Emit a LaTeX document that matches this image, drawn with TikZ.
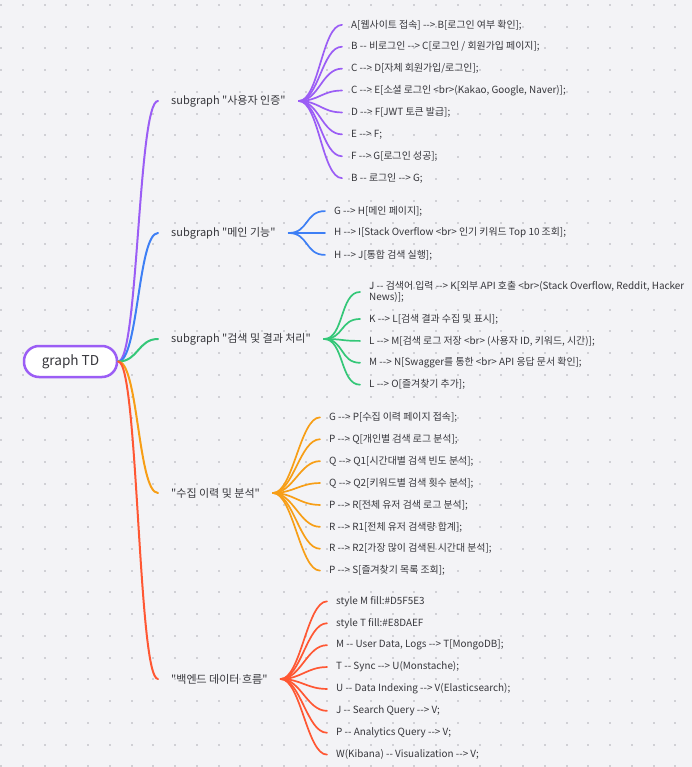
\documentclass[tikz,border=0pt]{standalone}
\usepackage{fontspec}
\newfontfamily\krfont{Noto Sans CJK KR}
\usetikzlibrary{positioning}
\definecolor{bgpaper}{RGB}{243,243,246}
\definecolor{bgdot}{RGB}{208,208,213}
\definecolor{mmtext}{RGB}{55,55,60}
\definecolor{mmpurple}{RGB}{155,93,245}
\definecolor{mmblue}{RGB}{61,127,245}
\definecolor{mmgreen}{RGB}{52,199,120}
\definecolor{mmorange}{RGB}{247,158,22}
\definecolor{mmred}{RGB}{255,87,51}
\tikzset{
  rootbox/.style={draw=mmpurple, line width=2.5pt, fill=white, rounded corners=15pt,
    minimum width=93pt, minimum height=31pt, text=mmtext, font=\krfont\fontsize{13.6}{16}\selectfont},
  topic/.style={anchor=west, inner xsep=13pt, text=mmtext, font=\krfont\fontsize{11}{13}\selectfont},
  leaf/.style={anchor=west, inner xsep=9pt, text=mmtext, align=left, font=\krfont\fontsize{9.9}{11}\selectfont},
  branch/.style={line width=2pt, line cap=round},
  twig/.style={line width=1.7pt, line cap=round},
}

\begin{document}
\begin{tikzpicture}[x=1pt, y=-1pt]
    % Paper and dot grid
    \fill[bgpaper] (0,0) rectangle (692,767);
    \useasboundingbox (0,0) rectangle (692,767);
    \foreach \i in {0,...,31}
      \foreach \j in {0,...,35}
        \fill[bgdot] ({21.75*\i},{4+21.75*\j}) rectangle +(2,2);

    % Root
    \node[rootbox] (root) at (70.5,361.5) {graph TD};

    % Topics
    \node[topic] (auth) at (158,101) {subgraph "사용자 인증"};
    \node[topic] (mainf) at (158,233) {subgraph "메인 기능"};
    \node[topic] (search) at (158,339) {subgraph "검색 및 결과 처리"};
    \node[topic] (hist) at (158,493) {"수집 이력 및 분석"};
    \node[topic] (backend) at (158,679) {"백엔드 데이터 흐름"};

    \draw[branch, mmpurple] (root.east) .. controls +(20,0) and +(-20,0) .. (auth.west);
    \draw[branch, mmblue] (root.east) .. controls +(20,0) and +(-20,0) .. (mainf.west);
    \draw[branch, mmgreen] (root.east) .. controls +(20,0) and +(-20,0) .. (search.west);
    \draw[branch, mmorange] (root.east) .. controls +(20,0) and +(-20,0) .. (hist.west);
    \draw[branch, mmred] (root.east) .. controls +(20,0) and +(-20,0) .. (backend.west);

    % User authentication
    \foreach \txt [count=\i] in {
        A[웹사이트 접속] -{}-> B[로그인 여부 확인];,
        B -{}- 비로그인 -{}-> C[로그인 / 회원가입 페이지];,
        C -{}-> D[자체 회원가입/로그인];,
        {C -{}-> E[소셜 로그인 <br>(Kakao, Google, Naver)];},
        D -{}-> F[JWT 토큰 발급];,
        E -{}-> F;,
        F -{}-> G[로그인 성공];,
        B -{}- 로그인 -{}-> G;} {
      \node[leaf] (auth-\i) at (342,{101.5+(\i-4.5)*21.9}) {\txt};
      \draw[twig, mmpurple] (auth.east) .. controls +(20,0) and +(-20,0) .. (auth-\i.west);
    }

    % Main features
    \foreach \txt [count=\i] in {
        G -{}-> H[메인 페이지];,
        H -{}-> I[Stack Overflow <br> 인기 키워드 Top 10 조회];,
        H -{}-> J[통합 검색 실행];} {
      \node[leaf] (mainf-\i) at (325,{233+(\i-2)*21.9}) {\txt};
      \draw[twig, mmblue] (mainf.east) .. controls +(20,0) and +(-20,0) .. (mainf-\i.west);
    }

    % Search and results
    \node[leaf] (search-1) at (360,292) {J -{}- 검색어 입력 -{}-> K[외부 API 호출 <br>(Stack Overflow, Reddit, Hacker\\News)];};
    \foreach \txt [count=\i from 2] in {
        K -{}-> L[검색 결과 수집 및 표시];,
        {L -{}-> M[검색 로그 저장 <br> (사용자 ID, 키워드, 시간)];},
        M -{}-> N[Swagger를 통한 <br> API 응답 문서 확인];,
        L -{}-> O[즐겨찾기 추가];} {
      \node[leaf] (search-\i) at (360,{319+(\i-2)*21.9}) {\txt};
    }
    \foreach \i in {1,...,5}
      \draw[twig, mmgreen] (search.east) .. controls +(20,0) and +(-20,0) .. (search-\i.west);

    % History and analysis
    \foreach \txt [count=\i] in {
        G -{}-> P[수집 이력 페이지 접속];,
        P -{}-> Q[개인별 검색 로그 분석];,
        Q -{}-> Q1[시간대별 검색 빈도 분석];,
        Q -{}-> Q2[키워드별 검색 횟수 분석];,
        P -{}-> R[전체 유저 검색 로그 분석];,
        R -{}-> R1[전체 유저 검색량 합계];,
        R -{}-> R2[가장 많이 검색된 시간대 분석];,
        P -{}-> S[즐겨찾기 목록 조회];} {
      \node[leaf] (hist-\i) at (320,{494+(\i-4.5)*21.9}) {\txt};
      \draw[twig, mmorange] (hist.east) .. controls +(20,0) and +(-20,0) .. (hist-\i.west);
    }

    % Backend data flow
    \foreach \txt [count=\i] in {
        style M fill:\#D5F5E3,
        style T fill:\#E8DAEF,
        {M -{}- User Data, Logs -{}-> T[MongoDB];},
        T -{}- Sync -{}-> U(Monstache);,
        U -{}- Data Indexing -{}-> V(Elasticsearch);,
        J -{}- Search Query -{}-> V;,
        P -{}- Analytics Query -{}-> V;,
        W(Kibana) -{}- Visualization -{}-> V;} {
      \node[leaf] (backend-\i) at (327,{678+(\i-4.5)*21.9}) {\txt};
      \draw[twig, mmred] (backend.east) .. controls +(20,0) and +(-20,0) .. (backend-\i.west);
    }
\end{tikzpicture}
\end{document}
